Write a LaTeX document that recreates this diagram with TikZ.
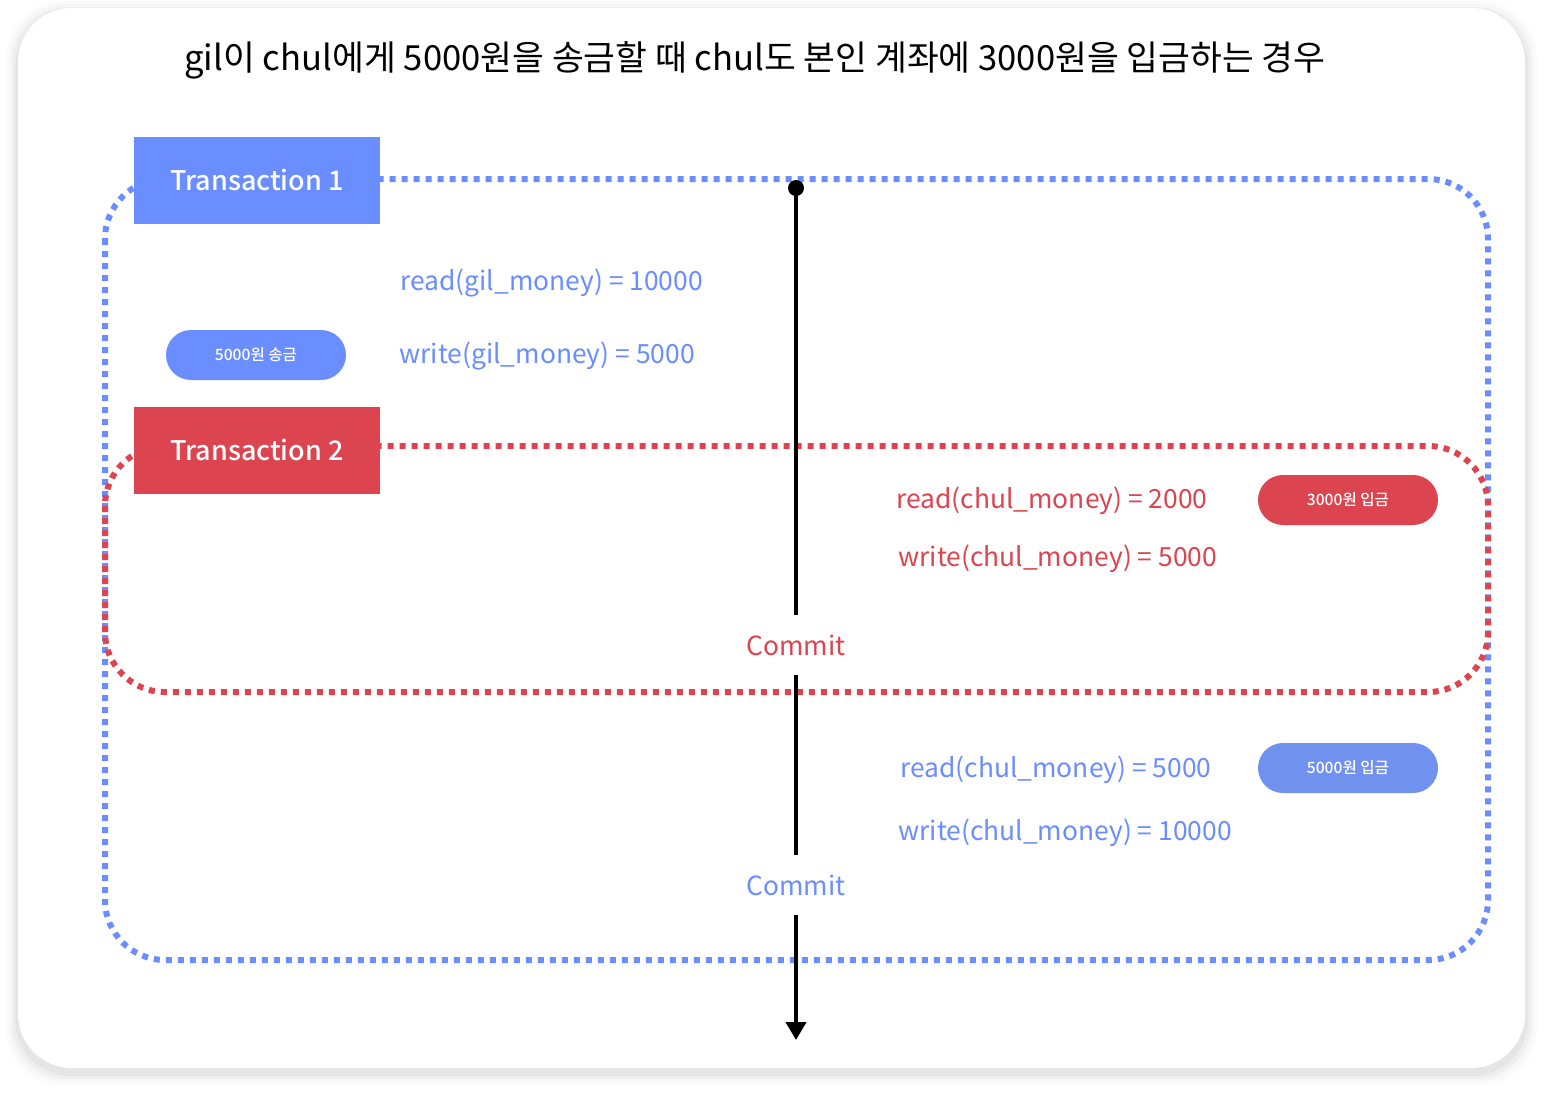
\documentclass[tikz,border=0pt]{standalone}
\usepackage{fontspec}
\setmainfont{Noto Sans CJK KR}
\newfontfamily\mediumfont{Noto Sans CJK KR Medium}
\usetikzlibrary{arrows.meta}

\definecolor{txblue}{HTML}{6A8DFF}
\definecolor{txred}{HTML}{DC444F}
\definecolor{pillblue}{HTML}{7191EE}

\begin{document}
\begin{tikzpicture}[x=0.5pt, y=-0.5pt, >=Triangle,
  font=\fontsize{13.2}{15}\selectfont,
  txbox/.style={minimum width=123pt, minimum height=43.5pt, inner sep=0pt, text=white, font=\fontsize{13.5}{16}\selectfont\mediumfont},
  pill/.style={rounded corners=12.5pt, minimum width=90pt, minimum height=25pt, inner sep=0pt, text=white, font=\fontsize{7.8}{9}\selectfont\mediumfont},
  opline/.style={anchor=west, inner sep=0pt},
  dotbox/.style={line width=3pt, dash pattern=on 3pt off 3pt, rounded corners=30pt},
  commit/.style={inner sep=0pt, minimum height=30pt}]

\useasboundingbox (0,0) rectangle (1545,1098);

% Card with soft shadow
\foreach \s/\o in {12/0.015, 9/0.02, 6/0.03, 3/0.04} {
  \fill[black, opacity=\o, rounded corners=28pt] (18-\s,8-\s+5) rectangle (1525+\s,1068+\s+5);
}
\fill[white, rounded corners=27pt] (18,8) rectangle (1525,1068);

% Title
\node[font=\fontsize{17.3}{20}\selectfont] (title) at (755,60) {gil이 chul에게 5000원을 송금할 때 chul도 본인 계좌에 3000원을 입금하는 경우};

% ---- Transaction boxes (dotted) ----
\draw[dotbox, txblue] (105,179) rectangle (1488,960);
\draw[dotbox, txred] (105,446) rectangle (1488,692);

% ---- Transaction labels ----
\node[txbox, fill=txblue] (tx1) at (257,180) {Transaction 1};
\node[txbox, fill=txred] (tx2) at (257,450) {Transaction 2};

% ---- Transaction 1 operations ----
\node[opline, text=txblue] (read1) at (400,283) {read(gil\_money) = 10000};
\node[opline, text=txblue] (write1) at (399,356) {write(gil\_money) = 5000};
\node[pill, fill=txblue] (send) at (256,355) {5000원 송금};

% ---- Transaction 2 operations ----
\node[opline, text=txred] (read2) at (896,501) {read(chul\_money) = 2000};
\node[opline, text=txred] (write2) at (898,559) {write(chul\_money) = 5000};
\node[pill, fill=txred] (deposit2) at (1348,500) {3000원 입금};

% ---- Transaction 1 continued ----
\node[opline, text=txblue] (read3) at (900,770) {read(chul\_money) = 5000};
\node[opline, text=txblue] (write3) at (898,833) {write(chul\_money) = 10000};
\node[pill, fill=pillblue] (deposit1) at (1348,768) {5000원 입금};

% ---- Time axis ----
\coordinate (start) at (796,188);
\coordinate (stop) at (796,1040);
\node[commit, text=txred] (commit2) at (796,645) {Commit};
\node[commit, text=txblue] (commit1) at (796,885) {Commit};

\fill (start) circle (4pt);
\draw[line width=2pt] (start) -- (commit2.north);
\draw[line width=2pt] (commit2.south) -- (commit1.north);
\draw[->, line width=2pt, arrows={-Triangle[length=9pt, width=10pt]}] (commit1.south) -- (stop);

\end{tikzpicture}
\end{document}
